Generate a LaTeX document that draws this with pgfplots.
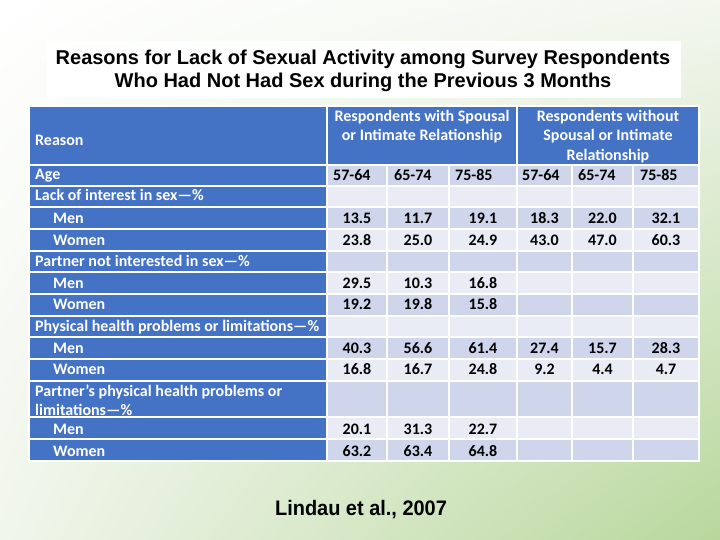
\documentclass[border=0pt]{standalone}
\usepackage{pgfplots}
\pgfplotsset{compat=1.18}
\usepackage{pgfplotstable}
\usetikzlibrary{shadings}
\usepackage{fontspec}
\setmainfont{Carlito}
\newfontfamily\titlefont{Liberation Sans}
\newfontfamily\srcfont[FakeStretch=0.95]{Liberation Sans}
\definecolor{tblue}{HTML}{4472C4}
\definecolor{bandA}{HTML}{CFD5EA}
\definecolor{bandB}{HTML}{E9EBF5}
\definecolor{bgUR}{HTML}{F3F7EF}
\definecolor{bgLL}{HTML}{F1F6EC}
\definecolor{bgLR}{HTML}{B8D79C}

% with spousal or intimate relationship: ages 57-64, 65-74, 75-85
% (ypos = text baseline of the row)
\pgfplotstableread{
ypos a b c
223 13.5 11.7 19.1
245 23.8 25.0 24.9
288 29.5 10.3 16.8
309 19.2 19.8 15.8
353 40.3 56.6 61.4
374 16.8 16.7 24.8
434 20.1 31.3 22.7
456 63.2 63.4 64.8
}\withspouse
% without spousal or intimate relationship
\pgfplotstableread{
ypos a b c
223 18.3 22.0 32.1
245 43.0 47.0 60.3
353 27.4 15.7 28.3
374 9.2 4.4 4.7
}\withoutspouse

\newcommand{\tf}{\bfseries\fontsize{16}{18}\selectfont}

\begin{document}
\begin{tikzpicture}
\begin{axis}[
  width=720pt, height=540pt, scale only axis,
  xmin=0, xmax=720, ymin=0, ymax=540, y dir=reverse,
  hide axis, clip=false,
  point meta=explicit symbolic,
  nodes near coords,
  every node near coord/.append style={anchor=base, font=\tf, text=black, inner sep=0pt},
]
% background
\shade[upper left=white, upper right=bgUR, lower left=bgLL, lower right=bgLR]
  (axis cs:0,0) rectangle (axis cs:720,540);
% title box
\fill[white] (axis cs:47,41) rectangle (axis cs:681,98);
\node[anchor=base, font=\titlefont\bfseries\fontsize{20}{22}\selectfont] at (axis cs:363,65)
  {Reasons for Lack of Sexual Activity among Survey Respondents};
\node[anchor=base, font=\titlefont\bfseries\fontsize{20}{22}\selectfont] at (axis cs:363,88)
  {Who Had Not Had Sex during the Previous 3 Months};
% table frame
\fill[white] (axis cs:28,105) rectangle (axis cs:700,462);
% header
\fill[tblue] (axis cs:30,107) rectangle (axis cs:326,164);
\fill[tblue] (axis cs:328,107) rectangle (axis cs:516,164);
\fill[tblue] (axis cs:518,107) rectangle (axis cs:698,164);
% rows
\foreach \rt/\rb/\rc in {166/185/bandA,187/206/bandB,208/228/bandA,230/250/bandB,
  252/271/bandA,273/293/bandB,295/315/bandA,317/336/bandB,338/358/bandA,
  360/380/bandB,382/416/bandA,418/438/bandB,440/460/bandA}{
  \edef\tmp{\noexpand\fill[tblue] (axis cs:30,\rt) rectangle (axis cs:326,\rb);}\tmp
  \foreach \cl/\cr in {328/386,388/448,450/516,518/571,573/632,634/698}{
    \edef\tmp{\noexpand\fill[\rc] (axis cs:\cl,\rt) rectangle (axis cs:\cr,\rb);}\tmp
  }
}
% header texts
\node[anchor=base west, font=\tf, text=white, inner sep=0pt] at (axis cs:35,146) {Reason};
\node[anchor=base, font=\tf, text=white] at (axis cs:422,122) {Respondents with Spousal};
\node[anchor=base, font=\tf, text=white] at (axis cs:422,141) {or Intimate Relationship};
\node[anchor=base, font=\tf, text=white] at (axis cs:608,122) {Respondents without};
\node[anchor=base, font=\tf, text=white] at (axis cs:608,141) {Spousal or Intimate};
\node[anchor=base, font=\tf, text=white] at (axis cs:608,161) {Relationship};
% age labels
\node[anchor=base west, font=\tf, inner sep=0pt] at (axis cs:333,181) {57-64};
\node[anchor=base west, font=\tf, inner sep=0pt] at (axis cs:394,181) {65-74};
\node[anchor=base west, font=\tf, inner sep=0pt] at (axis cs:455,181) {75-85};
\node[anchor=base west, font=\tf, inner sep=0pt] at (axis cs:522,181) {57-64};
\node[anchor=base west, font=\tf, inner sep=0pt] at (axis cs:578,181) {65-74};
\node[anchor=base west, font=\tf, inner sep=0pt] at (axis cs:640,181) {75-85};
% row labels
\tikzset{rl/.style={anchor=base west, font=\tf, text=white, inner sep=0pt}}
\node[rl] at (axis cs:35,180) {Age};
\node[rl] at (axis cs:35,201) {Lack of interest in sex—\%};
\node[rl] at (axis cs:53,223) {Men};
\node[rl] at (axis cs:53,245) {Women};
\node[rl] at (axis cs:35,266) {Partner not interested in sex—\%};
\node[rl] at (axis cs:53,288) {Men};
\node[rl] at (axis cs:53,309) {Women};
\node[rl] at (axis cs:35,331) {Physical health problems or limitations—\%};
\node[rl] at (axis cs:53,353) {Men};
\node[rl] at (axis cs:53,374) {Women};
\node[rl] at (axis cs:35,396) {Partner’s physical health problems or};
\node[rl] at (axis cs:35,415) {limitations—\%};
\node[rl] at (axis cs:53,434) {Men};
\node[rl] at (axis cs:53,456) {Women};
% values
\addplot[only marks, mark=none] table[x expr=357, y=ypos, meta=a] {\withspouse};
\addplot[only marks, mark=none] table[x expr=418, y=ypos, meta=b] {\withspouse};
\addplot[only marks, mark=none] table[x expr=483, y=ypos, meta=c] {\withspouse};
\addplot[only marks, mark=none] table[x expr=544.5, y=ypos, meta=a] {\withoutspouse};
\addplot[only marks, mark=none] table[x expr=602.5, y=ypos, meta=b] {\withoutspouse};
\addplot[only marks, mark=none] table[x expr=666, y=ypos, meta=c] {\withoutspouse};
% source
\node[anchor=base, font=\srcfont\bfseries\fontsize{21}{24}\selectfont] at (axis cs:361,515) {Lindau et al., 2007};
\end{axis}
\end{tikzpicture}
\end{document}
